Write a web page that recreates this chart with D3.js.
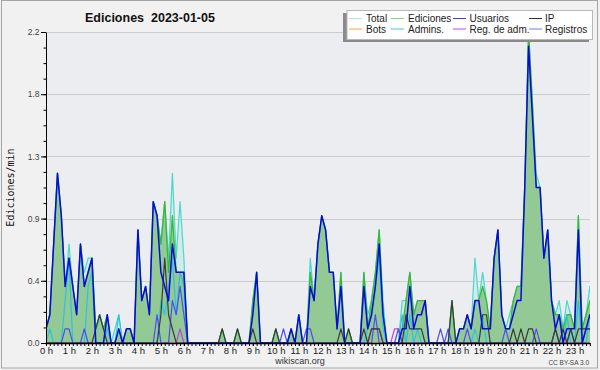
<!DOCTYPE html>
<html><head><meta charset="utf-8">
<script src="https://cdn.jsdelivr.net/npm/d3@7"></script>
<style>html,body{margin:0;padding:0;background:#fff;} svg{display:block;}</style>
</head><body>
<svg id="c" width="600" height="370"></svg>
<script>
const chartTitle = "Ediciones  2023-01-05";
const yAxisTitle = "Ediciones/min";
const hourLabels = ["0 h","1 h","2 h","3 h","4 h","5 h","6 h","7 h","8 h","9 h","10 h","11 h","12 h","13 h","14 h","15 h","16 h","17 h","18 h","19 h","20 h","21 h","22 h","23 h"];
const yTicks = [0, 0.44, 0.88, 1.32, 1.76, 2.2];
const yTickLabels = ["0.0","0.4","0.9","1.3","1.8","2.2"];

const total = [0.1,0.2,0.7,1.2,0.9,0.4,0.7,0.4,0.2,0.7,0.5,0.6,
 0.6,0.1,0.2,0.1,0.2,0,0.1,0.2,0,0.1,0.1,0,
 0.8,0.3,0.4,0.2,1.0,0.9,0.7,1.0,0.6,1.2,0.6,1.0,
 0.6,0,0,0,0,0,0,0,0,0,0.1,0,
 0,0,0.1,0,0,0,0.3,0.5,0,0,0,0,
 0.1,0,0,0,0.1,0,0.2,0,0,0.6,0.3,0.7,
 0.9,0.8,0.5,0.5,0.1,0.5,0,0.1,0,0,0,0.5,
 0.2,0.3,0.5,0.8,0.3,0,0,0,0,0.3,0.3,0.5,
 0.2,0.3,0.3,0.3,0,0,0,0,0,0,0.3,0,
 0.1,0.1,0.2,0.1,0.6,0.3,0.5,0.3,0.1,0.6,0.8,0.2,
 0.1,0.2,0.3,0.4,0.4,1.1,2.2,1.7,1.2,1.1,0.6,0.8,
 0.3,0.2,0.3,0.1,0.3,0.2,0.1,0.9,0.1,0.2,0.4,0.2];

const ediciones = [0.1,0.2,0.7,1.2,0.9,0.4,0.6,0.4,0.2,0.7,0.4,0.5,
 0.6,0.1,0.2,0.1,0.2,0,0,0.1,0,0.1,0.1,0,
 0.8,0.3,0.4,0.2,1.0,0.9,0.7,1.0,0.5,0.9,0.5,0.5,
 0.5,0,0,0,0,0,0,0,0,0,0.1,0,
 0,0,0.1,0,0,0,0.3,0.5,0,0,0,0,
 0.1,0,0,0,0.1,0,0.2,0,0,0.5,0.3,0.7,
 0.9,0.8,0.5,0.5,0.1,0.5,0,0.1,0,0,0,0.5,
 0.1,0.3,0.5,0.8,0.2,0,0,0,0,0.1,0.3,0.5,
 0.2,0.3,0.3,0.3,0,0,0,0,0,0,0.3,0,
 0.1,0.1,0.2,0.1,0.3,0.3,0.4,0.3,0.1,0.6,0.8,0.2,
 0.1,0.1,0.3,0.4,0.4,1.1,2.2,1.7,1.1,1.1,0.6,0.8,
 0.3,0.2,0.2,0.1,0.2,0.2,0.1,0.9,0.1,0.2,0.3,0.2];

const usuarios = [0.1,0.2,0.7,1.2,0.9,0.4,0.6,0.4,0.2,0.7,0.4,0.5,
 0.6,0,0,0,0.2,0,0,0.1,0,0.1,0.1,0,
 0.8,0.3,0.4,0.2,1.0,0.9,0.5,0.4,0.3,0.7,0.5,0.5,
 0.5,0,0,0,0,0,0,0,0,0,0,0,
 0,0,0,0,0,0,0.2,0.5,0,0,0,0,
 0,0,0,0,0.1,0,0.2,0,0,0.4,0.3,0.7,
 0.9,0.8,0.5,0.5,0.1,0.4,0,0,0,0,0,0.4,
 0.1,0.2,0.4,0.7,0.2,0,0,0,0,0.1,0.1,0.4,
 0.1,0.2,0.2,0.3,0,0,0,0,0,0,0,0,
 0.1,0.1,0.2,0.1,0.3,0.3,0.1,0.1,0.1,0.6,0.8,0.2,
 0.1,0.1,0.2,0.3,0.3,1.1,2.1,1.6,1.1,1.1,0.6,0.8,
 0.3,0.1,0.2,0,0.1,0.1,0.1,0.8,0,0.1,0.2,0.1];

const ip = [0,0,0,0,0,0,0,0,0,0,0,0,
 0,0.1,0.2,0.1,0,0,0,0,0,0,0,0,
 0,0,0,0,0,0,0.2,0.6,0.2,0.1,0,0,
 0,0,0,0,0,0,0,0,0,0,0.1,0,
 0,0,0.1,0,0,0,0.1,0,0,0,0,0,
 0.1,0,0,0,0,0,0,0,0,0,0,0,
 0,0,0,0,0,0.1,0,0.1,0,0,0,0.1,
 0,0.1,0.1,0.1,0,0,0,0,0,0,0.2,0.1,
 0.1,0.1,0.1,0,0,0,0,0,0,0,0.3,0,
 0,0,0,0,0,0,0.2,0.2,0,0,0,0,
 0,0,0.1,0,0.1,0,0.1,0.1,0,0,0,0,
 0,0.1,0,0.1,0,0.1,0,0.1,0.1,0.1,0.1,0.1];

const bots = [0,0,0,0,0,0,0,0,0,0,0,0,
 0,0,0,0,0,0,0,0,0,0,0,0,
 0,0,0,0,0,0,0,0,0,0,0,0,
 0,0,0,0,0,0,0,0,0,0,0,0,
 0,0,0,0,0,0,0,0,0,0,0,0,
 0,0,0,0,0,0,0,0,0,0,0,0,
 0,0,0,0,0,0,0,0,0,0,0,0,
 0,0,0,0,0,0,0,0,0,0,0,0,
 0,0,0,0,0,0,0,0,0,0,0,0,
 0,0,0,0,0,0,0,0,0,0,0,0,
 0,0,0,0,0,0,0,0,0,0,0,0,
 0,0,0,0,0,0,0,0,0,0,0,0];

const admins = [0,0.1,0,0,0,0.3,0.6,0,0,0,0,0.4,
 0.5,0,0,0,0.1,0,0,0.2,0,0,0,0,
 0,0,0,0,0,0,0.3,0.2,0.4,0.6,0.2,0.5,
 0.4,0,0,0,0,0,0,0,0,0,0,0,
 0,0,0,0,0,0,0,0,0,0,0,0,
 0,0,0,0,0,0,0,0,0,0,0,0,
 0,0,0,0,0,0,0,0,0,0,0,0,
 0.1,0.2,0.4,0.6,0.1,0,0,0,0,0.2,0,0.2,
 0,0.1,0,0,0,0,0,0,0,0,0,0,
 0,0,0,0,0.1,0,0.2,0,0,0,0,0,
 0,0,0,0,0,0,0,0,0,0,0,0,
 0,0,0,0,0.2,0,0,0.3,0,0,0.2,0];

const regAdm = [0,0,0,0,0,0,0,0,0,0,0,0,
 0,0,0,0,0,0,0,0,0,0,0,0,
 0,0,0,0,0,0,0,0,0,0,0,0.1,
 0,0,0,0,0,0,0,0,0,0,0,0,
 0,0,0,0,0,0,0,0,0,0,0,0,
 0,0,0,0,0,0,0,0,0,0,0,0,
 0,0,0,0,0,0,0,0,0,0,0,0,
 0,0.1,0.1,0.1,0,0,0,0.1,0.1,0,0,0,
 0,0,0,0,0,0,0,0,0,0,0,0,
 0,0,0,0,0,0,0,0,0,0,0,0,
 0,0,0,0,0,0,0,0,0,0,0,0,
 0,0,0,0,0,0,0,0,0,0,0,0];

const registros = [0,0,0,0,0,0.1,0.1,0,0,0,0.1,0,
 0,0,0,0,0,0,0,0,0,0,0,0,
 0,0,0,0,0,0.2,0,0,0,0.3,0.2,0.4,
 0.2,0,0,0,0,0,0,0,0,0,0,0,
 0,0,0,0,0,0,0,0,0,0,0,0,
 0,0,0.1,0,0,0,0,0,0.1,0.1,0,0,
 0,0,0,0,0,0,0,0,0,0,0,0,
 0,0,0.2,0,0,0,0,0,0.1,0,0,0,
 0,0,0,0,0,0,0,0.1,0,0.1,0,0,
 0,0,0.1,0,0,0,0,0,0,0,0,0,
 0.1,0,0,0,0,0,0,0,0.1,0,0,0,
 0,0.1,0,0,0,0.1,0,0,0,0.1,0.1,0];

const legendNames = ["Total","Ediciones","Usuarios","IP","Bots","Admins.","Reg. de adm.","Registros"];
const legendColors = ["#b4e6e6","#8fd08f","#4040e0","#333333","#ffa040","#40c8d8","#c848d8","#7878f0"];

const W = 600, H = 370;
const svg = d3.select("#c");
svg.append("rect").attr("width", W).attr("height", H).attr("fill", "#f1f1f1");
svg.append("rect").attr("x", 1.5).attr("y", 0.5).attr("width", 596).attr("height", 367.5)
  .attr("fill", "none").attr("stroke", "#a6a6a6");

const L = 46, R = 590, T = 32, B = 343;
const x = d3.scaleLinear().domain([0, 143]).range([L, L + 143 * 3.83]);
const y = d3.scaleLinear().domain([0, 2.2]).range([B, T]);

svg.append("rect").attr("x", L).attr("y", T).attr("width", R - L).attr("height", B - T).attr("fill", "#ecedf0");

// grid
svg.append("g").selectAll("line").data(yTicks.slice(1)).join("line")
  .attr("x1", L).attr("x2", R).attr("y1", d => Math.round(y(d)) + 0.5).attr("y2", d => Math.round(y(d)) + 0.5)
  .attr("stroke", "#cdcdcd").attr("stroke-width", 1);

svg.append("defs").append("clipPath").attr("id", "clip")
  .append("rect").attr("x", L).attr("y", T - 4).attr("width", R - L).attr("height", B - T + 4);

const plot = svg.append("g").attr("clip-path", "url(#clip)");
const area = d3.area().x((d, i) => x(i)).y0(y(0)).y1(d => y(d));
const line = d3.line().x((d, i) => x(i)).y(d => y(d));

plot.append("path").datum(total).attr("d", area).attr("fill", "#c9ece7").attr("fill-opacity", 0.75);
plot.append("path").datum(ediciones).attr("d", area).attr("fill", "#92c994");

const lineSeries = [
  {d: total, c: "#4fd6cc", w: 1.2},
  {d: ediciones, c: "#38b838", w: 1.3},
  {d: bots, c: "#ff9933", w: 1.2},
  {d: admins, c: "#2cc4dc", w: 1.2},
  {d: regAdm, c: "#c040e0", w: 1.2},
  {d: registros, c: "#4d4df2", w: 1.2},
  {d: ip, c: "#3a3a3a", w: 1.2},
  {d: usuarios, c: "#0a0ad8", w: 1.5}
];
lineSeries.forEach(s => {
  plot.append("path").datum(s.d).attr("d", line).attr("fill", "none")
    .attr("stroke", s.c).attr("stroke-width", s.w).attr("stroke-linejoin", "round");
});

// y axis
const gy = svg.append("g").attr("transform", `translate(${L},0)`)
  .call(d3.axisLeft(y).tickValues(yTicks).tickFormat((d, i) => yTickLabels[i]).tickSize(5).tickSizeOuter(0).tickPadding(1.5));
gy.select(".domain").attr("stroke", "#000");
gy.selectAll(".tick line").attr("stroke", "#000");
gy.selectAll("text").attr("font-family", "Liberation Sans, Arial, sans-serif").attr("font-size", "8.5px").attr("fill", "#444");
const gym = svg.append("g").attr("transform", `translate(${L},0)`)
  .call(d3.axisLeft(y).tickValues(d3.range(0, 21).map(k => k * 0.11)).tickSize(2.5).tickFormat(""));
gym.select(".domain").remove();
gym.selectAll(".tick line").attr("stroke", "#000");

// x axis
const gx = svg.append("g").attr("transform", `translate(0,${B})`)
  .call(d3.axisBottom(x).tickValues(d3.range(0, 143)).tickSize(3).tickFormat("").tickSizeOuter(0));
gx.select(".domain").remove();
gx.selectAll(".tick line").attr("stroke", "#000");
const gxl = svg.append("g").attr("transform", `translate(0,${B})`)
  .call(d3.axisBottom(x).tickValues(d3.range(0, 24).map(h => h * 6)).tickFormat((d, i) => hourLabels[i]).tickSize(3).tickPadding(1.5));
gxl.select(".domain").remove();
gxl.selectAll(".tick line").attr("stroke", "#000");
gxl.selectAll("text").attr("font-family", "Liberation Sans, Arial, sans-serif").attr("font-size", "9.5px").attr("fill", "#222");
svg.append("line").attr("x1", L - 0.5).attr("x2", R).attr("y1", B + 0.5).attr("y2", B + 0.5).attr("stroke", "#000").attr("stroke-width", 1.6);

// titles
svg.append("text").attr("x", 85).attr("y", 21.5).text(chartTitle)
  .attr("font-family", "Liberation Sans, Arial, sans-serif").attr("font-weight", "bold").attr("font-size", "12.5px")
  .attr("fill", "#111").style("white-space", "pre");
svg.append("text").attr("transform", `translate(14,${(T + B) / 2}) rotate(-90)`).attr("text-anchor", "middle")
  .text(yAxisTitle).attr("font-family", "DejaVu Sans Mono, monospace").attr("font-size", "10px").attr("fill", "#111");
svg.append("text").attr("x", 300).attr("y", 364).attr("text-anchor", "middle").text("wikiscan.org")
  .attr("font-family", "Liberation Sans, Arial, sans-serif").attr("font-size", "9px").attr("fill", "#333");
svg.append("text").attr("x", 589).attr("y", 364.5).attr("text-anchor", "end").text("CC BY-SA 3.0")
  .attr("font-family", "Liberation Sans, Arial, sans-serif").attr("font-size", "6.5px").attr("fill", "#444");

// legend
const lg = svg.append("g");
lg.append("rect").attr("x", 343).attr("y", 13).attr("width", 246).attr("height", 29).attr("fill", "#8a8a8a");
lg.append("rect").attr("x", 347).attr("y", 10.5).attr("width", 245.5).attr("height", 29).attr("fill", "#fff").attr("stroke", "#b8b8b8");
const colLine = [349, 391, 453, 529];
const colText = [366, 408, 469.5, 545];
legendNames.forEach((n, i) => {
  const c = i % 4, r = Math.floor(i / 4);
  const yy = r === 0 ? 18.5 : 29;
  lg.append("line").attr("x1", colLine[c]).attr("x2", colLine[c] + 13).attr("y1", yy).attr("y2", yy)
    .attr("stroke", legendColors[i]).attr("stroke-width", 1);
  lg.append("text").attr("x", colText[c]).attr("y", yy + 3.8).text(n)
    .attr("font-family", "Liberation Sans, Arial, sans-serif").attr("font-size", "10px").attr("fill", "#222");
});
</script>
</body></html>
